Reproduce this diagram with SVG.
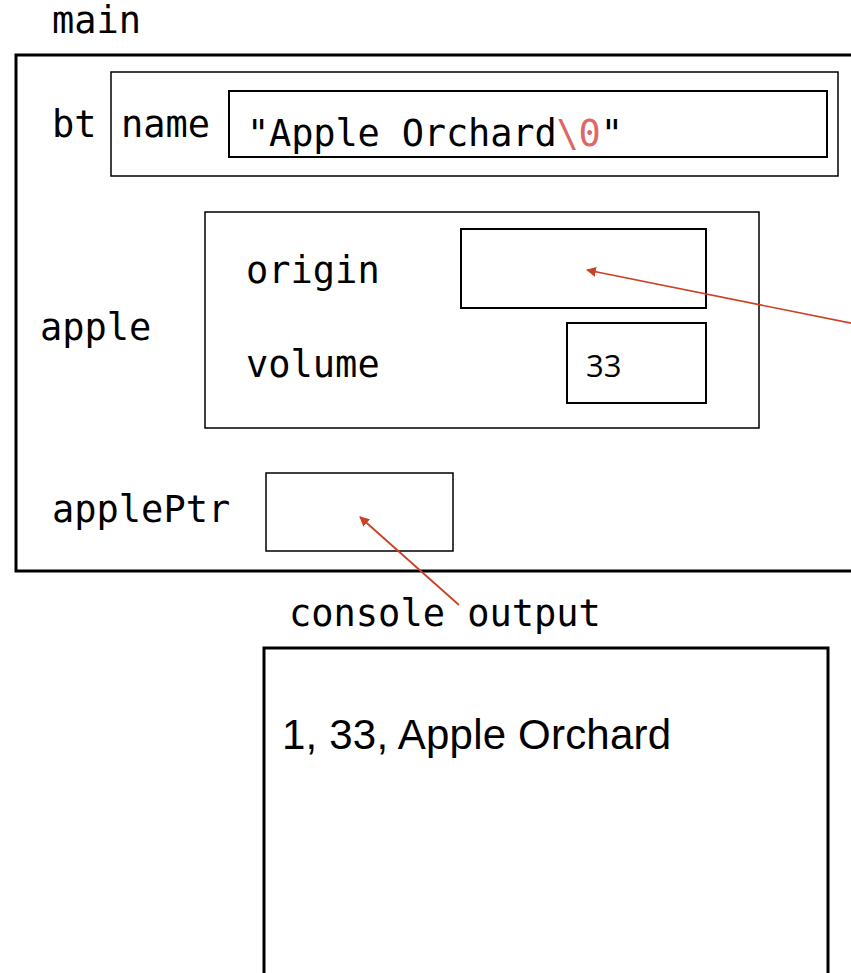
<svg xmlns="http://www.w3.org/2000/svg" width="851" height="973" viewBox="0 0 851 973">
  <defs>
    <style>
      .mono { font-family: "DejaVu Sans Mono", "Liberation Mono", monospace; font-size: 37px; fill: #000; }
      .box { fill: none; stroke: #000; }
      .frame { fill: none; stroke: #000; stroke-width: 3; }
      .link { fill: none; stroke: #cc4125; stroke-width: 1.7; }
      .nul { fill: #e06666; }
    </style>
    <marker id="head" viewBox="0 0 10 10" refX="9" refY="5" markerWidth="10" markerHeight="10" markerUnits="userSpaceOnUse" orient="auto">
      <path d="M0,0 L10,5 L0,10 z" fill="#cc4125"/>
    </marker>
  </defs>
  <rect width="851" height="973" fill="#fff"/>

  <!-- stack frame for main -->
  <g id="main">
    <text class="mono" x="52" y="33">main</text>
    <rect class="frame" x="16" y="55" width="860" height="516"/>
  </g>

  <!-- struct bt with its char array -->
  <g id="bt">
    <text class="mono" x="52" y="137">bt</text>
    <rect class="box" stroke-width="1.5" x="111" y="72" width="727" height="104"/>
    <text class="mono" x="121" y="137">name</text>
    <rect class="box" stroke-width="2" x="229" y="91" width="598" height="66"/>
    <text class="mono" x="247" y="146" font-size="39" textLength="376">"Apple Orchard<tspan class="nul">\0</tspan>"</text>
  </g>

  <!-- struct apple -->
  <g id="apple">
    <text class="mono" x="40" y="340">apple</text>
    <rect class="box" stroke-width="1.5" x="205" y="212" width="554" height="216"/>
    <text class="mono" x="246" y="283">origin</text>
    <rect class="box" stroke-width="2" x="461" y="229" width="245" height="79"/>
    <text class="mono" x="246" y="377">volume</text>
    <rect class="box" stroke-width="2" x="567" y="323" width="139" height="80"/>
    <text x="586" y="377" font-family="'Open Sans', 'Noto Sans', sans-serif" font-size="31">33</text>
  </g>

  <!-- pointer applePtr -->
  <g id="applePtr">
    <text class="mono" x="52" y="522">applePtr</text>
    <rect class="box" stroke-width="1.5" x="266" y="473" width="187" height="78"/>
  </g>

  <!-- console output panel -->
  <g id="console">
    <text class="mono" x="289" y="626">console output</text>
    <rect class="frame" x="264" y="648" width="564" height="340"/>
    <text x="282" y="749" font-family="'Liberation Sans', Arial, sans-serif" font-size="42" textLength="389">1, 33, Apple Orchard</text>
  </g>

  <!-- pointer arrows -->
  <g id="connectors">
    <line class="link" x1="860" y1="325" x2="587" y2="270" marker-end="url(#head)"/>
    <line class="link" x1="459" y1="605" x2="360" y2="517" marker-end="url(#head)"/>
  </g>
</svg>
